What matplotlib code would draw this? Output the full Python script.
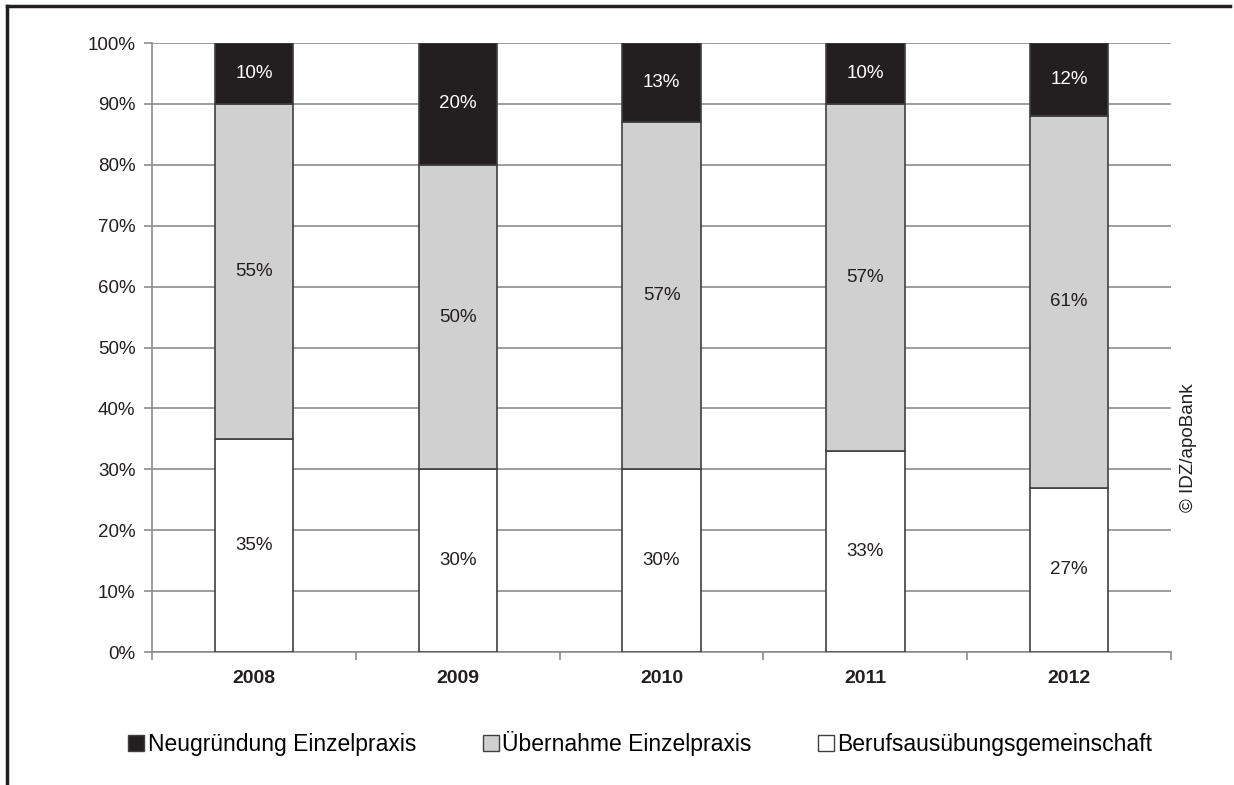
import matplotlib.pyplot as plt
from matplotlib.lines import Line2D
from matplotlib.patches import Patch
import numpy as np

plt.rcParams['font.family'] = ['Liberation Sans', 'DejaVu Sans']

jahre = ['2008', '2009', '2010', '2011', '2012']
berufsausuebung = [35, 30, 30, 33, 27]
uebernahme = [55, 50, 57, 57, 61]
neugruendung = [10, 20, 13, 10, 12]

serien = [
    ('Berufsausübungsgemeinschaft', berufsausuebung, '#ffffff'),
    ('Übernahme Einzelpraxis', uebernahme, '#d0d0d0'),
    ('Neugründung Einzelpraxis', neugruendung, '#231f20'),
]

fig = plt.figure(figsize=(12.34, 7.85), dpi=100)
ax = fig.add_axes([0.1232, 0.1694, 0.8258, 0.7758])

x = np.arange(len(jahre))
unten = np.zeros(len(jahre))
for name, werte, farbe in serien:
    ax.bar(x, werte, bottom=unten, width=0.385, color=farbe,
           edgecolor='#404040', linewidth=1.2, zorder=3, label=name)
    for xi, b, v in zip(x, unten, werte):
        tc = 'white' if farbe == '#231f20' else '#231f20'
        ax.text(xi, b + v / 2, f'{v}%', ha='center', va='center',
                fontsize=13.5, color=tc, zorder=4)
    unten += np.array(werte)

ax.set_xlim(-0.5, len(jahre) - 0.5)
ax.set_ylim(0, 100)
ax.set_yticks(range(0, 101, 10))
ax.set_yticklabels([f'{v}%' for v in range(0, 101, 10)], fontsize=13.5, color='#231f20')
ax.yaxis.grid(True, color='#8c8c8c', linewidth=1.2, zorder=0)
ax.set_axisbelow(True)

ax.set_xticks(x)
ax.set_xticklabels(jahre, fontsize=14, fontweight='bold', color='#231f20')
ax.set_xticks(np.arange(-0.5, len(jahre)), minor=True)
ax.tick_params(axis='x', which='major', length=0, pad=13)
ax.tick_params(axis='x', which='minor', length=6, color='#8c8c8c', width=1.2)
ax.tick_params(axis='y', length=6, color='#8c8c8c', width=1.2, pad=6)

for s in ['top', 'right']:
    ax.spines[s].set_visible(False)
ax.spines['left'].set_color('#8c8c8c')
ax.spines['bottom'].set_color('#8c8c8c')
ax.spines['left'].set_linewidth(1.2)
ax.spines['bottom'].set_linewidth(1.2)

# Legende
handles = [Patch(facecolor=f, edgecolor='#404040', linewidth=1) for _, _, f in serien[::-1]]
labels = [n for n, _, _ in serien[::-1]]
fig.legend(handles, labels, loc='center', bbox_to_anchor=(0.519, 0.053), ncol=3,
           frameon=False, fontsize=16.5, handlelength=0.7, handleheight=0.7,
           handletextpad=0.15, columnspacing=2.9)

fig.text(0.963, 0.43, '© IDZ/apoBank', rotation=90, ha='center', va='center',
         fontsize=13.5, color='#231f20')

# Rahmen
fig.add_artist(Line2D([0.0057, 0.0057], [0, 0.992], color='#231f20', linewidth=2.5,
                      transform=fig.transFigure))
fig.add_artist(Line2D([0.0057, 0.997], [0.992, 0.992], color='#231f20', linewidth=2.5,
                      transform=fig.transFigure))

fig.savefig('out.png', dpi=100, facecolor='white')
